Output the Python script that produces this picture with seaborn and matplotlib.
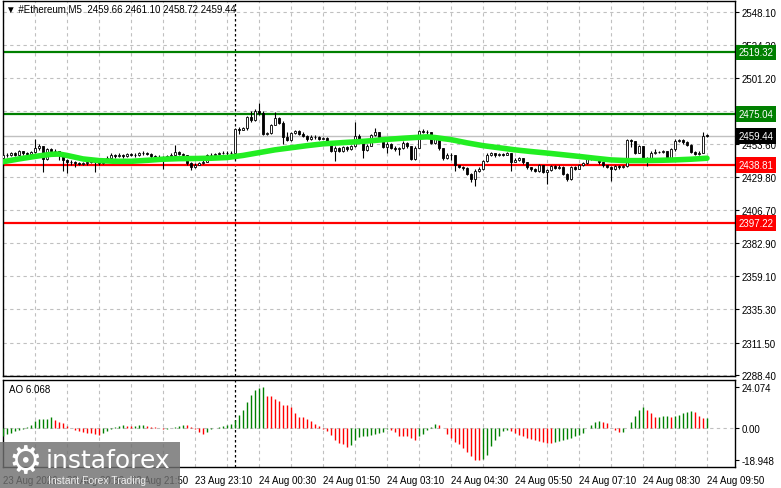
import matplotlib
matplotlib.use("Agg")
import matplotlib.pyplot as plt
from matplotlib.patches import Rectangle
import matplotlib.transforms as mtransforms
import seaborn as sns
import numpy as np
import pandas as pd

# ---- data (#Ethereum, M5) ----
first_open = 2444.0
closes = [2445.5, 2446.0, 2447.0, 2446.0, 2448.5, 2447.0, 2446.5, 2448.0, 2450.5, 2452.0,
          2443.0, 2450.0, 2449.0, 2448.5, 2447.0, 2442.0, 2441.0, 2440.5, 2440.0, 2439.5,
          2440.0, 2441.0, 2441.5, 2440.5, 2440.0, 2442.0, 2444.0, 2445.5, 2445.0, 2446.0,
          2445.0, 2446.5, 2446.0, 2445.5, 2447.0, 2447.5, 2446.5, 2445.0, 2444.5, 2444.0,
          2443.5, 2445.0, 2446.0, 2448.0, 2446.5, 2445.5, 2440.0, 2437.5, 2439.0, 2440.0,
          2441.0, 2445.5, 2446.0, 2446.5, 2447.0, 2447.5, 2447.0, 2447.5, 2464.5, 2464.0,
          2464.8, 2472.8, 2470.5, 2477.0, 2476.0, 2460.8, 2461.5, 2467.3, 2472.5, 2469.0,
          2458.5, 2456.5, 2461.5, 2463.0, 2461.0, 2459.5, 2457.0, 2459.0, 2458.5, 2457.5,
          2458.0, 2455.5, 2449.0, 2451.0, 2449.0, 2451.5, 2450.0, 2452.0, 2459.5, 2456.0,
          2449.5, 2452.5, 2460.0, 2462.0, 2458.5, 2451.5, 2454.0, 2451.0, 2450.0, 2450.5,
          2454.5, 2452.0, 2443.0, 2451.0, 2463.0, 2462.5, 2462.0, 2454.5, 2457.0, 2450.5,
          2443.5, 2446.0, 2445.5, 2438.5, 2437.5, 2436.3, 2432.5, 2428.6, 2434.6, 2435.5,
          2441.5, 2446.0, 2447.0, 2445.5, 2446.5, 2446.0, 2447.0, 2441.0, 2442.5, 2443.5,
          2440.5, 2437.0, 2435.5, 2434.5, 2438.5, 2434.0, 2435.0, 2438.0, 2436.5, 2437.5,
          2432.5, 2428.5, 2437.0, 2436.0, 2438.5, 2440.0, 2443.5, 2443.0, 2443.5, 2440.5,
          2438.5, 2437.5, 2435.5, 2437.8, 2437.0, 2438.2, 2456.5, 2455.5, 2447.5, 2452.0,
          2443.0, 2443.8, 2447.5, 2447.8, 2448.0, 2448.5, 2442.8, 2449.8, 2456.0, 2456.5,
          2454.8, 2453.0, 2448.0, 2446.5, 2447.5, 2459.66, 2459.44]
highs = [2447.0, 2447.5, 2448.0, 2448.0, 2449.5, 2449.0, 2448.0, 2449.0, 2457.0, 2453.5,
         2452.5, 2451.0, 2451.0, 2450.0, 2449.0, 2447.5, 2443.0, 2442.0, 2441.5, 2441.0,
         2441.0, 2442.0, 2442.5, 2442.0, 2441.5, 2443.0, 2445.0, 2447.0, 2446.5, 2447.0,
         2446.5, 2447.5, 2447.5, 2447.0, 2448.0, 2448.5, 2448.0, 2447.0, 2446.0, 2445.5,
         2445.0, 2446.0, 2447.0, 2453.0, 2448.5, 2447.0, 2446.0, 2440.5, 2440.0, 2441.0,
         2442.0, 2446.5, 2447.0, 2447.5, 2448.0, 2448.5, 2448.5, 2448.5, 2465.0, 2466.0,
         2465.5, 2473.5, 2477.0, 2478.7, 2483.0, 2477.0, 2462.5, 2468.0, 2476.5, 2473.0,
         2470.0, 2462.0, 2462.5, 2464.0, 2463.5, 2462.0, 2460.0, 2460.0, 2460.0, 2459.5,
         2459.0, 2458.5, 2456.0, 2452.0, 2451.5, 2452.5, 2452.5, 2453.0, 2469.2, 2460.5,
         2456.5, 2453.5, 2461.0, 2465.0, 2462.5, 2459.0, 2455.0, 2454.5, 2452.0, 2451.5,
         2455.5, 2455.0, 2452.5, 2452.0, 2463.5, 2464.5, 2463.5, 2462.5, 2458.0, 2457.5,
         2451.0, 2447.0, 2447.0, 2446.0, 2439.0, 2438.0, 2437.0, 2433.0, 2435.5, 2437.0,
         2442.5, 2447.0, 2448.0, 2447.5, 2447.5, 2447.5, 2448.0, 2447.5, 2443.5, 2444.5,
         2444.0, 2441.0, 2437.5, 2436.5, 2439.5, 2439.0, 2436.0, 2439.0, 2438.5, 2438.5,
         2438.0, 2433.0, 2438.0, 2438.0, 2439.5, 2441.0, 2444.5, 2444.5, 2444.5, 2444.0,
         2441.0, 2439.0, 2438.0, 2438.5, 2438.5, 2439.0, 2457.3, 2457.5, 2456.0, 2453.0,
         2452.5, 2444.5, 2448.5, 2450.0, 2449.0, 2449.5, 2449.0, 2450.5, 2457.0, 2457.5,
         2457.0, 2455.5, 2453.5, 2448.5, 2448.5, 2462.0, 2461.10]
lows = [2443.0, 2444.5, 2445.0, 2445.0, 2445.5, 2446.0, 2445.5, 2445.5, 2447.5, 2449.5,
        2433.5, 2442.0, 2448.0, 2447.0, 2442.0, 2434.5, 2433.0, 2439.0, 2437.5, 2438.5,
        2438.5, 2439.0, 2440.0, 2433.5, 2439.0, 2439.5, 2441.5, 2443.5, 2444.0, 2444.5,
        2444.0, 2444.5, 2445.0, 2444.5, 2445.0, 2446.0, 2445.5, 2444.0, 2443.5, 2443.0,
        2436.0, 2443.0, 2444.5, 2445.5, 2445.5, 2444.5, 2439.0, 2435.0, 2436.5, 2438.5,
        2439.5, 2440.5, 2445.0, 2445.5, 2446.0, 2446.5, 2446.0, 2446.5, 2447.0, 2461.0,
        2463.5, 2464.0, 2469.5, 2470.0, 2474.5, 2460.0, 2460.0, 2460.5, 2467.0, 2468.0,
        2453.6, 2456.0, 2456.0, 2461.0, 2460.0, 2458.5, 2456.0, 2456.5, 2457.5, 2456.5,
        2457.0, 2454.5, 2448.0, 2441.5, 2448.0, 2448.0, 2449.0, 2449.5, 2451.5, 2455.0,
        2444.0, 2449.0, 2452.0, 2459.5, 2457.5, 2450.5, 2447.0, 2450.0, 2449.0, 2446.0,
        2450.0, 2451.0, 2442.0, 2442.5, 2450.5, 2461.5, 2461.0, 2453.5, 2454.0, 2449.5,
        2442.5, 2443.0, 2442.5, 2434.5, 2436.5, 2435.0, 2431.5, 2426.3, 2423.5, 2433.5,
        2435.0, 2441.0, 2445.0, 2444.5, 2445.0, 2445.0, 2445.5, 2434.5, 2440.5, 2441.5,
        2439.5, 2436.0, 2434.5, 2433.5, 2434.0, 2433.0, 2425.0, 2434.5, 2435.5, 2436.0,
        2431.5, 2427.5, 2428.0, 2435.0, 2435.5, 2438.0, 2439.5, 2442.0, 2442.5, 2439.5,
        2437.5, 2436.5, 2427.5, 2435.0, 2436.0, 2436.5, 2437.5, 2451.5, 2446.5, 2447.0,
        2442.0, 2438.2, 2443.0, 2446.5, 2447.0, 2447.5, 2442.0, 2442.5, 2449.0, 2455.0,
        2454.0, 2452.0, 2447.0, 2445.5, 2446.0, 2447.0, 2458.72]

# moving average (green line), read at these bars
ma_bars = [0, 4, 8, 12, 14, 16, 20, 24, 28, 32, 36, 40, 44, 48, 52, 56, 60, 64, 68, 72,
           76, 80, 84, 88, 92, 96, 100, 104, 106, 108, 112, 116, 120, 124, 128, 132, 136,
           140, 144, 148, 152, 156, 160, 164, 168, 172, 176]
ma_vals = [2441.0, 2443.0, 2444.8, 2446.3, 2446.5, 2445.5, 2443.0, 2441.8, 2441.3, 2441.3,
           2442.0, 2442.8, 2443.2, 2443.3, 2443.5, 2444.0, 2445.5, 2447.5, 2449.5, 2451.0,
           2452.5, 2453.8, 2454.5, 2455.2, 2456.0, 2457.0, 2457.8, 2458.5, 2458.8, 2458.3,
           2456.8, 2454.5, 2452.5, 2451.0, 2449.5, 2448.3, 2447.2, 2446.0, 2444.8, 2443.5,
           2442.3, 2441.8, 2441.8, 2442.0, 2442.3, 2442.8, 2443.5]

# Awesome Oscillator
ao = [-4.8, -3.7, -2.9, -1.7, -1.0, -0.4, 0.6, 1.5, 4.1, 5.2,
      5.4, 5.5, 6.4, 4.5, 3.2, 3.0, 1.0, -0.3, -1.0, -1.7,
      -2.3, -2.9, -3.2, -3.7, -3.9, -3.0, -2.0, -0.5, 0.6, 1.2,
      1.6, 1.4, 1.0, 1.2, 1.5, 1.6, 1.1, 0.7, 0.3, 0.1,
      -0.8, -0.6, 0.2, 0.8, 1.4, 1.9, 1.8, 0.5, -0.8, -2.6,
      -3.6, -2.2, -0.4, 0.2, 0.6, 1.4, 1.9, 2.3, 4.5, 7.4,
      10.3, 15.1, 19.6, 22.3, 23.6, 24.07, 19.0, 18.8, 17.0, 15.7,
      13.6, 13.2, 12.2, 8.7, 6.4, 6.3, 5.4, 4.0, 2.5, 1.4,
      -0.4, -1.7, -4.3, -6.8, -8.7, -9.7, -11.0, -10.0, -7.2, -5.6,
      -4.8, -4.5, -4.2, -3.6, -3.0, -2.3, -0.6, -1.0, -2.3, -4.5,
      -4.8, -4.9, -5.8, -6.8, -4.5, -3.5, -1.4, 0.4, 2.3, 1.5,
      0.1, -3.5, -5.8, -8.3, -9.7, -11.6, -14.0, -16.5, -18.8, -18.95,
      -18.4, -16.1, -10.7, -7.2, -4.5, -1.9, -1.0, -1.9, -2.9, -3.9,
      -4.8, -5.8, -6.4, -6.8, -7.4, -8.1, -8.7, -9.1, -8.3, -7.8,
      -7.2, -6.4, -5.8, -4.8, -3.9, -2.9, -0.2, 1.9, 3.3, 4.3,
      3.3, 2.9, 0.1, -1.4, -2.5, -2.3, -0.3, 3.3, 7.2, 10.7,
      12.0, 10.7, 8.7, 6.2, 6.6, 6.8, 6.9, 6.7, 7.0, 7.6,
      8.5, 9.5, 9.9, 9.5, 7.0, 5.9, 6.068]

green_levels = [2519.32, 2475.04]
red_levels = [2438.81, 2397.22]
bid = 2459.44
price_ticks = [2548.10, 2524.30, 2501.20, 2477.40, 2453.60, 2429.80, 2406.70,
               2382.90, 2359.10, 2335.30, 2311.50, 2288.40]
ao_ticks = [24.074, 0.0, -18.948]
ao_tick_labels = ["24.074", "0.00", "-18.948"]
time_bars = [0, 16, 32, 48, 64, 80, 96, 112, 128, 144, 160, 176]
time_labels = ["23 Aug 2026", "23 Aug 20:30", "23 Aug 21:50", "23 Aug 23:10",
               "24 Aug 00:30", "24 Aug 01:50", "24 Aug 03:10", "24 Aug 04:30",
               "24 Aug 05:50", "24 Aug 07:10", "24 Aug 08:30", "24 Aug 09:50"]
day_break = 58

df = pd.DataFrame({"close": closes, "high": highs, "low": lows, "ao": ao})
df["open"] = [first_open] + closes[:-1]
df["bar"] = np.arange(len(df))

sns.set_style("white")
plt.rcParams["font.family"] = ["Liberation Sans", "DejaVu Sans"]
plt.rcParams["font.size"] = 7

W, H = 781, 489
fig = plt.figure(figsize=(W / 100, H / 100), dpi=100)

def rect(l, t, r, b):
    return [l / W, 1 - b / H, (r - l) / W, (b - t) / H]

ax = fig.add_axes(rect(3, 2, 735, 377))
ax2 = fig.add_axes(rect(3, 381, 735, 468))
grid_kw = dict(color="#c0c0c0", linestyle=(0, (3, 3)), linewidth=0.8)

for a in (ax, ax2):
    a.set_xlim(0, 183)
    for s in a.spines.values():
        s.set_color("black")
        s.set_linewidth(1.0)
    a.yaxis.tick_right()
    a.tick_params(axis="y", length=3, width=0.8, pad=1.5, labelsize=7, colors="black")
    for gx in range(0, 184, 8):
        a.axvline(gx, zorder=0, **grid_kw)
    a.axvline(day_break, color="black", linestyle=(0, (2, 2)), linewidth=0.9, zorder=1)

# ---- main price panel ----
ax.set_ylim(2287.73, 2555.97)
ax.set_yticks(price_ticks)
ax.set_yticklabels(["%.2f" % p for p in price_ticks])
for p in price_ticks:
    ax.axhline(p, zorder=0, **grid_kw)
ax.set_xticks([])

ax.axhline(bid, color="#c0c0c0", linewidth=1.0, zorder=1)
for lv in green_levels:
    ax.axhline(lv, color="#008000", linewidth=1.6, zorder=2)
for lv in red_levels:
    ax.axhline(lv, color="#ff0000", linewidth=1.6, zorder=2)

ax.vlines(df.bar, df.low, df.high, color="black", linewidth=0.8, zorder=3)
up = df.close >= df.open
body_bottom = np.minimum(df.open, df.close)
body_h = np.maximum(np.abs(df.close - df.open), 0.35)
ax.bar(df.bar[up], body_h[up], bottom=body_bottom[up], width=0.7,
       color="white", edgecolor="black", linewidth=0.6, zorder=4)
ax.bar(df.bar[~up], body_h[~up], bottom=body_bottom[~up], width=0.7,
       color="black", edgecolor="black", linewidth=0.6, zorder=4)

sns.lineplot(x=ma_bars, y=ma_vals, ax=ax, color="#22ee22", linewidth=4.0, zorder=5)

# price boxes on the right scale
tr = mtransforms.blended_transform_factory(ax.transAxes, ax.transData)
boxes = [(v, "#008000") for v in green_levels] + [(bid, "black")] + \
        [(v, "#ff0000") for v in red_levels]
for v, c in boxes:
    ax.text(1.005, v, "%.2f" % v, transform=tr, ha="left", va="center", fontsize=7,
            color="white", clip_on=False, zorder=10,
            bbox=dict(boxstyle="square,pad=0.28", fc=c, ec="none"))

fig.text(6 / W, 1 - 10 / H, "\u25bc #Ethereum,M5  2459.66 2461.10 2458.72 2459.44",
         fontsize=7, va="center", ha="left", color="black")

# ---- AO panel ----
ax2.set_ylim(-22.9, 28.1)
ax2.set_yticks(ao_ticks)
ax2.set_yticklabels(ao_tick_labels)
ax2.axhline(0, zorder=0, **grid_kw)
prev = df.ao.shift(1).fillna(df.ao.iloc[0] - 1)
ao_col = np.where(df.ao > prev, "#008000", "#ff0000")
ax2.vlines(df.bar, 0, df.ao, colors=ao_col, linewidth=1.0, zorder=3)
ax2.text(0.008, 0.9, "AO 6.068", transform=ax2.transAxes, fontsize=7,
         ha="left", va="center", color="black")

ax2.set_xticks(time_bars)
ax2.set_xticklabels(time_labels, ha="left")
ax2.tick_params(axis="x", length=4, width=0.8, pad=2, labelsize=7, colors="black")

# ---- watermark ----
fig.add_artist(Rectangle((0, 0), 180 / W, (489 - 443) / H, transform=fig.transFigure,
                         fc="#707070", ec="none", alpha=0.82, zorder=20))
fig.text(25 / W, 1 - 463 / H, "\u2699", fontsize=27, color="white", ha="center",
         va="center", family="DejaVu Sans", zorder=21)
fig.text(46 / W, 1 - 461 / H, "instaforex", fontsize=18, color="white", ha="left",
         va="center", family="DejaVu Sans", zorder=21)
fig.text(48 / W, 1 - 481 / H, "Instant Forex Trading", fontsize=7.5, color="#eeeeee",
         ha="left", va="center", zorder=21)

fig.savefig("out.png", dpi=100)
